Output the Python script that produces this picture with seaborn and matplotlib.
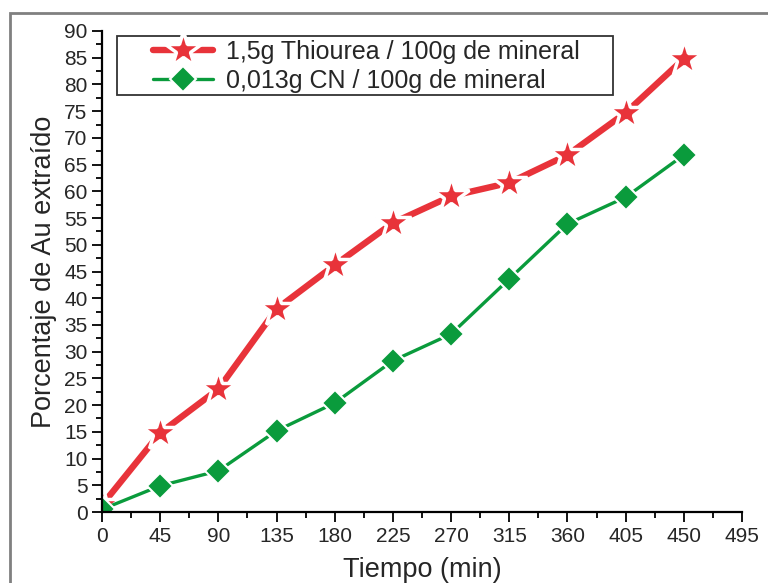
import numpy as np
import pandas as pd
import seaborn as sns
import matplotlib.pyplot as plt
from matplotlib.ticker import MultipleLocator

# datos
tiempo = [0, 45, 90, 135, 180, 225, 270, 315, 360, 405, 450]
thiourea = [1.3, 14.8, 23.0, 38.0, 46.2, 54.1, 59.1, 61.6, 66.8, 74.7, 84.8]
cianuro = [0.5, 4.9, 7.7, 15.2, 20.4, 28.3, 33.3, 43.6, 53.9, 58.9, 66.8]
etiquetas = ["1,5g Thiourea / 100g de mineral", "0,013g CN / 100g de mineral"]

sns.set_style("ticks")
plt.rcParams['font.family'] = ['Liberation Sans', 'DejaVu Sans']

fig = plt.figure(figsize=(7.68, 5.83), dpi=100)
ax = fig.add_axes([102/768, 1 - 512/583, 640/768, 481/583])

# marco exterior gris
marco = plt.Rectangle((10/768, -0.1), 1.2, 1.1 - 13/583, transform=fig.transFigure,
                      fill=False, edgecolor="#808080", linewidth=2, clip_on=False)
fig.patches.append(marco)

sns.lineplot(x=tiempo, y=thiourea, ax=ax, color="#E8333A", linewidth=4.6,
             marker="*", markersize=27, markeredgecolor="white", markeredgewidth=2.5,
             label=etiquetas[0])
sns.lineplot(x=tiempo, y=cianuro, ax=ax, color="#0A9B3C", linewidth=2.4,
             marker="D", markersize=13, markeredgecolor="white", markeredgewidth=1.5,
             label=etiquetas[1])

ax.set_xlim(0, 495)
ax.set_ylim(0, 90)
ax.xaxis.set_major_locator(MultipleLocator(45))
ax.xaxis.set_minor_locator(MultipleLocator(22.5))
ax.yaxis.set_major_locator(MultipleLocator(5))
ax.yaxis.set_minor_locator(MultipleLocator(2.5))
ax.tick_params(which="major", length=7.5, width=1.3, labelsize=15, pad=3, color="black")
ax.tick_params(which="minor", length=4, width=1.3, color="black")
for s in ["left", "bottom"]:
    ax.spines[s].set_linewidth(1.6)
    ax.spines[s].set_color("black")
sns.despine(ax=ax)

ax.set_xlabel("Tiempo (min)", fontsize=19.5, labelpad=8)
ax.set_ylabel("Porcentaje de Au extraído", fontsize=19.5, labelpad=5)

# leyenda sin marco + caja dibujada aparte (mas margen lateral como el original)
leg = ax.legend(loc="upper left", bbox_to_anchor=(51/640, 472/481), fontsize=18,
                frameon=False, handlelength=2.4, handletextpad=0.5,
                borderpad=0, labelspacing=0.2, borderaxespad=0)
caja = plt.Rectangle((15/640, 417/481), 496/640, 59/481, transform=ax.transAxes,
                     fill=False, edgecolor="#333333", linewidth=1.3, zorder=5)
ax.add_patch(caja)

plt.savefig("out.png", dpi=100)
